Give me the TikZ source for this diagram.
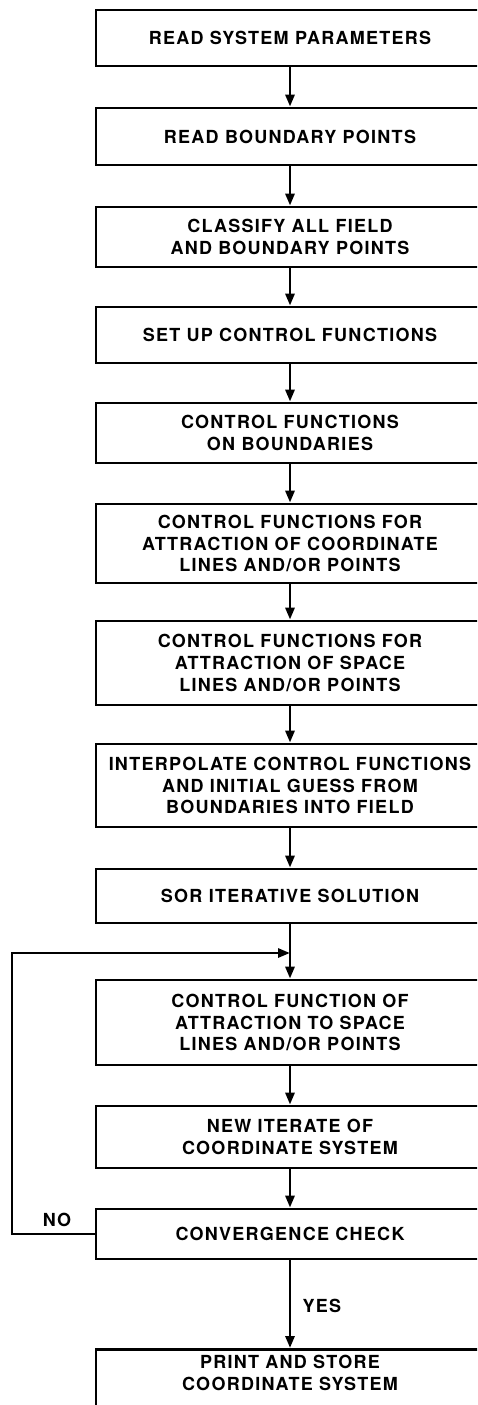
\documentclass[tikz,border=0pt]{standalone}
\usepackage{fontspec}
\setmainfont{TeX Gyre Heros}[LetterSpace=7]
\usepackage{tikz}
\usetikzlibrary{arrows.meta,positioning}

\begin{document}
\begin{tikzpicture}[
    x=1pt,y=-1pt,
    stepbox/.style={rectangle,draw=black,line width=2.8pt,minimum width=388pt,
      align=center,inner sep=0pt,font=\bfseries\fontsize{18}{21.7}\selectfont},
    answer/.style={font=\bfseries\fontsize{18}{21.7}\selectfont},
    arrow/.style={-{Triangle[length=12pt,width=9pt]},line width=2.8pt}
  ]
  \useasboundingbox (0,0) rectangle (477,1405);
  \clip (0,0) rectangle (477,1405);
  % main column of steps
  \node[stepbox,minimum height=56pt] (read) at (290,38) {READ SYSTEM PARAMETERS};
  \node[stepbox,minimum height=57pt] (bound) at (290,136.5) {READ BOUNDARY POINTS};
  \node[stepbox,minimum height=60pt] (classify) at (290,237) {CLASSIFY ALL FIELD\\AND BOUNDARY POINTS};
  \node[stepbox,minimum height=56pt] (setup) at (290,335) {SET UP CONTROL FUNCTIONS};
  \node[stepbox,minimum height=60pt] (onbound) at (290,433) {CONTROL FUNCTIONS\\ON BOUNDARIES};
  \node[stepbox,minimum height=79pt] (coordattr) at (290,543.5) {CONTROL FUNCTIONS FOR\\ATTRACTION OF COORDINATE\\LINES AND/OR POINTS};
  \node[stepbox,minimum height=84pt] (spaceattr) at (290,663) {CONTROL FUNCTIONS FOR\\ATTRACTION OF SPACE\\LINES AND/OR POINTS};
  \node[stepbox,minimum height=83pt] (interp) at (290,785.5) {INTERPOLATE CONTROL FUNCTIONS\\AND INITIAL GUESS FROM\\BOUNDARIES INTO FIELD};
  \node[stepbox,minimum height=54pt] (sor) at (290,896) {SOR ITERATIVE SOLUTION};
  \node[stepbox,minimum height=85pt] (spacectrl) at (290,1022.5) {CONTROL FUNCTION OF\\ATTRACTION TO SPACE\\LINES AND/OR POINTS};
  \node[stepbox,minimum height=62pt] (iterate) at (290,1137) {NEW ITERATE OF\\COORDINATE SYSTEM};
  \node[stepbox,minimum height=50pt] (converge) at (290,1234) {CONVERGENCE CHECK};
  \node[stepbox,anchor=north,inner ysep=6pt,text depth=30pt] (store) at (290,1348) {PRINT AND STORE\\COORDINATE SYSTEM};
  \coordinate (join) at (290,953);
  \coordinate (back) at (12,1234);
  % connectors
  \draw[arrow] (read) -- (bound);
  \draw[arrow] (bound) -- (classify);
  \draw[arrow] (classify) -- (setup);
  \draw[arrow] (setup) -- (onbound);
  \draw[arrow] (onbound) -- (coordattr);
  \draw[arrow] (coordattr) -- (spaceattr);
  \draw[arrow] (spaceattr) -- (interp);
  \draw[arrow] (interp) -- (sor);
  \draw[arrow] (sor) -- (spacectrl);
  \draw[arrow] (spacectrl) -- (iterate);
  \draw[arrow] (iterate) -- (converge);
  \draw[arrow] (converge) -- (store);
  \draw[arrow,line join=miter] (converge.west) -- (back) |- (join);
  \node[answer] (no) at (57,1220) {NO};
  \node[answer] (yes) at (322,1306) {YES};
\end{tikzpicture}
\end{document}
